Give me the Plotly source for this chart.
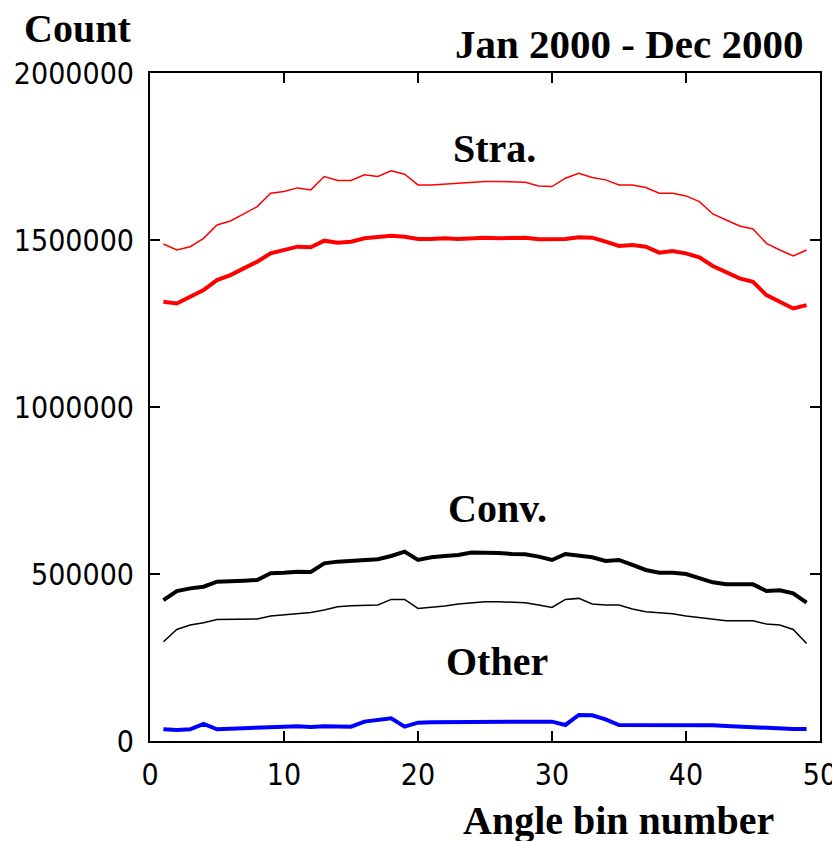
import plotly.graph_objects as go

bins = list(range(1, 50))

stra_thin = [1.488, 1.470, 1.480, 1.505, 1.545, 1.557, 1.578, 1.600, 1.640, 1.645,
             1.656, 1.650, 1.690, 1.678, 1.678, 1.695, 1.690, 1.707, 1.697, 1.665,
             1.665, 1.668, 1.670, 1.673, 1.675, 1.675, 1.673, 1.673, 1.662, 1.660,
             1.685, 1.700, 1.687, 1.680, 1.665, 1.665, 1.657, 1.640, 1.640, 1.632,
             1.615, 1.578, 1.560, 1.542, 1.533, 1.490, 1.470, 1.452, 1.470]
stra_thick = [1.315, 1.310, 1.330, 1.350, 1.380, 1.395, 1.415, 1.435, 1.460, 1.470,
              1.480, 1.478, 1.498, 1.492, 1.495, 1.505, 1.508, 1.513, 1.510, 1.503,
              1.503, 1.505, 1.503, 1.506, 1.507, 1.505, 1.507, 1.507, 1.502, 1.502,
              1.503, 1.508, 1.507, 1.495, 1.482, 1.485, 1.480, 1.462, 1.467, 1.460,
              1.448, 1.422, 1.402, 1.385, 1.375, 1.335, 1.315, 1.295, 1.305]
conv_thick = [0.422, 0.449, 0.457, 0.462, 0.477, 0.477, 0.480, 0.482, 0.502, 0.504,
              0.507, 0.506, 0.532, 0.537, 0.540, 0.541, 0.544, 0.554, 0.567, 0.542,
              0.550, 0.554, 0.557, 0.564, 0.565, 0.563, 0.560, 0.559, 0.552, 0.542,
              0.560, 0.556, 0.550, 0.539, 0.542, 0.527, 0.512, 0.504, 0.504, 0.500,
              0.489, 0.475, 0.469, 0.469, 0.469, 0.449, 0.451, 0.442, 0.414]
conv_thin = [0.297, 0.334, 0.347, 0.354, 0.364, 0.365, 0.365, 0.365, 0.374, 0.377,
             0.382, 0.385, 0.392, 0.402, 0.405, 0.407, 0.407, 0.424, 0.424, 0.397,
             0.400, 0.404, 0.410, 0.414, 0.417, 0.417, 0.415, 0.414, 0.407, 0.400,
             0.424, 0.427, 0.410, 0.407, 0.407, 0.395, 0.387, 0.385, 0.381, 0.374,
             0.370, 0.364, 0.360, 0.360, 0.360, 0.350, 0.347, 0.334, 0.292]
other = [0.035, 0.033, 0.035, 0.051, 0.035, 0.037, 0.039, 0.041, 0.043, 0.043,
         0.044, 0.042, 0.044, 0.044, 0.043, 0.058, 0.062, 0.068, 0.043, 0.055,
         0.056, 0.056, 0.057, 0.057, 0.057, 0.057, 0.056, 0.056, 0.058, 0.058,
         0.048, 0.078, 0.077, 0.065, 0.048, 0.048, 0.047, 0.048, 0.049, 0.050,
         0.049, 0.047, 0.045, 0.043, 0.041, 0.038, 0.036, 0.036, 0.036]

x_ticks = [0, 10, 20, 30, 40, 50]
y_ticks = [0, 500000, 1000000, 1500000, 2000000]
y_ticktext = ["0", "500000", "1000000", "1500000", "2000000"]

def scale(v):
    return [x * 1e6 for x in v]

series = [
    (stra_thin, "#ff0000", 1.5),
    (stra_thick, "#ff0000", 4),
    (conv_thin, "#000000", 1.5),
    (conv_thick, "#000000", 4),
    (other, "#0000ff", 4),
]

fig = go.Figure()
for vals, col, w in series:
    fig.add_trace(go.Scatter(x=bins, y=scale(vals), mode="lines",
                             line=dict(color=col, width=w), showlegend=False))

serif = "Liberation Serif"
tickfont = dict(family="DejaVu Sans Condensed, Roboto Condensed, Roboto, sans-serif", size=30, color="black")

axis_common = dict(showgrid=False, zeroline=False, showline=True, linecolor="black",
                   linewidth=2, mirror="ticks", ticks="inside", ticklen=10,
                   tickwidth=1.5, tickcolor="black", tickfont=tickfont, automargin=False)

fig.update_xaxes(range=[0, 50], tickvals=x_ticks, ticklabelstandoff=6, **axis_common)
fig.update_yaxes(range=[0, 2000000], tickvals=y_ticks, ticktext=y_ticktext,
                 ticklabelstandoff=8, **axis_common)

ann_font = dict(family=serif, size=40, color="black")
OFF = 8  # page body margin
W, H = 840 - OFF, 841 - OFF
L, R, T, B = 150 - OFF, 20, 73 - OFF, 100
pw, ph = W - L - R, H - T - B

def px2paper(px, py):
    # px, py are page pixel positions (reference picture coordinates)
    return (px - OFF - L) / pw, 1 - (py - OFF - T) / ph

annotations = [
    dict(text="<b>Stra.</b>", x=25.7, y=1775000, xref="x", yref="y", showarrow=False,
         font=ann_font, xanchor="center", yanchor="middle"),
    dict(text="<b>Conv.</b>", x=25.9, y=695000, xref="x", yref="y", showarrow=False,
         font=ann_font, xanchor="center", yanchor="middle"),
    dict(text="<b>Other</b>", x=25.9, y=238000, xref="x", yref="y", showarrow=False,
         font=ann_font, xanchor="center", yanchor="middle"),
]
for text, px, py, xa, size in [("<b>Count</b>", 77, 28, "center", 40),
                               ("<b>Jan 2000 - Dec 2000</b>", 805, 44, "right", 41),
                               ("<b>Angle bin number</b>", 618, 820, "center", 40)]:
    xx, yy = px2paper(px, py)
    annotations.append(dict(text=text, x=xx, y=yy, xref="paper", yref="paper",
                            showarrow=False, xanchor=xa, yanchor="middle",
                            font=dict(family=serif, size=size, color="black")))

fig.update_layout(width=W, height=H, margin=dict(l=L, r=R, t=T, b=B),
                  plot_bgcolor="white", paper_bgcolor="white", annotations=annotations)

fig.write_html("out.html")
